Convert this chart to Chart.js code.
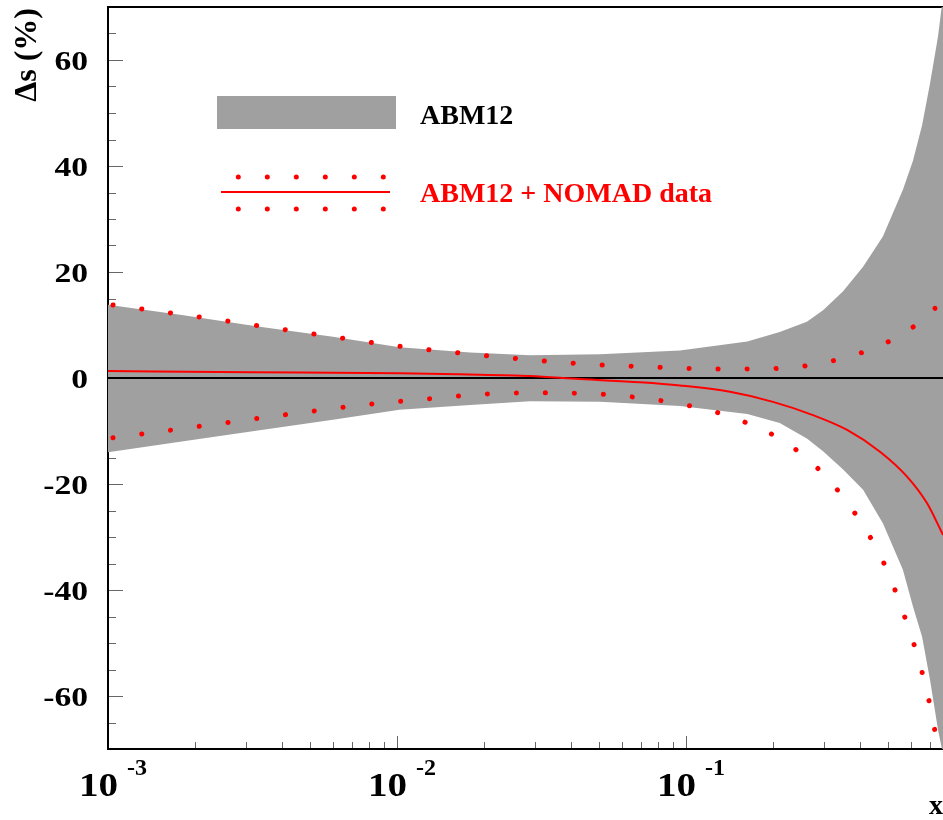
<!DOCTYPE html>
<html><head><meta charset="utf-8">
<script src="https://cdn.jsdelivr.net/npm/chart.js@4/dist/chart.umd.min.js"></script>
<style>html,body{margin:0;padding:0;background:#fff;overflow:hidden}#c{display:block}</style>
</head><body>
<canvas id="c" width="943" height="820"></canvas>
<script>
// ---------- values ----------
// ABM12 uncertainty band (Δs in %)
const bandX     = [0.00097, 0.001, 0.0018, 0.0033, 0.006, 0.0102, 0.0179, 0.0289, 0.0504, 0.0953, 0.163, 0.211, 0.262, 0.298, 0.349, 0.41, 0.48, 0.563, 0.61, 0.656, 0.699, 0.745, 0.775];
const bandUpper = [22.6, 13.8, 11.9, 9.7, 7.8, 5.8, 4.8, 4.3, 4.5, 5.2, 6.9, 8.7, 10.6, 12.8, 16.3, 21.0, 26.7, 35.5, 41.0, 47.7, 55.6, 64.5, 72.0];
const bandLower = [-23.0, -14.0, -12.0, -9.9, -7.9, -6.0, -5.1, -4.4, -4.5, -5.3, -6.8, -8.5, -11.4, -13.8, -17.2, -21.1, -27.4, -36.2, -43.1, -48.8, -57.0, -66.4, -71.0];
// ABM12 + NOMAD data : central curve
const centralX = [0.001, 0.0031, 0.0102, 0.0165, 0.0289, 0.043, 0.0693, 0.0953, 0.142, 0.2, 0.275, 0.361, 0.469, 0.582, 0.682, 0.775];
const centralY = [1.3, 1.1, 0.9, 0.7, 0.4, -0.2, -0.8, -1.4, -2.6, -4.5, -7.0, -9.8, -13.9, -18.6, -23.6, -29.6];
// ABM12 + NOMAD data : upper dotted curve
const upperX = [0.001, 0.00208, 0.00462, 0.0102, 0.0205, 0.0406, 0.0819, 0.130, 0.206, 0.260, 0.325, 0.406, 0.504, 0.610, 0.721, 0.775];
const upperY = [13.9, 11.5, 8.7, 6.0, 4.2, 2.8, 2.0, 1.7, 1.8, 2.3, 3.3, 4.8, 6.9, 9.6, 12.9, 15.5];
// ABM12 + NOMAD data : lower dotted curve
const lowerX = [0.001, 0.00208, 0.00413, 0.00819, 0.0130, 0.0207, 0.0328, 0.0524, 0.0661, 0.0826, 0.104, 0.130, 0.161, 0.198, 0.240, 0.284, 0.328, 0.375, 0.423, 0.469, 0.512, 0.550, 0.591, 0.630, 0.666, 0.699, 0.727, 0.750, 0.775];
const lowerY = [-11.4, -9.1, -6.9, -4.9, -3.9, -3.0, -2.8, -3.1, -3.6, -4.3, -5.3, -6.6, -8.4, -10.6, -13.5, -16.9, -20.6, -24.7, -29.0, -33.4, -38.0, -42.6, -47.4, -52.1, -56.9, -61.8, -66.6, -69.3, -73.0];
// axes
const xRange = [0.001, 0.775];
const yRange = [-70, 70];
const yTickLabels = [-60, -40, -20, 0, 20, 40, 60];
const xTickDecades = [-3, -2, -1];
const legendLabels = ['ABM12', 'ABM12 + NOMAD data'];
const yTitle = 'Δs (%)';
const xTitle = 'x';
// -------------------------------------------------------------

const pts = (xs, ys) => xs.map((x, i) => ({x, y: ys[i]}));
const SERIF = '"Liberation Serif", "Times New Roman", serif';
const GRAY = '#a0a0a0', RED = '#ff0000';

const rootStyle = {
  id: 'rootStyle',
  beforeDatasetsDraw(chart) {
    const {ctx, chartArea: a, scales: {x, y}} = chart;
    ctx.save();
    ctx.strokeStyle = '#666'; ctx.lineWidth = 1;
    ctx.beginPath();
    for (let v = yRange[0] + 5; v < yRange[1]; v += 5) {
      const py = Math.round(y.getPixelForValue(v)) + 0.5;
      const len = (v % 20 === 0) ? 15 : 8;
      ctx.moveTo(a.left, py); ctx.lineTo(a.left + len, py);
    }
    for (let e = -3; e <= 0; e++) for (let m = 1; m <= 9; m++) {
      const v = m * Math.pow(10, e);
      if (v < xRange[0] * 0.999 || v > xRange[1]) continue;
      const px = Math.round(x.getPixelForValue(v)) + 0.5;
      const len = m === 1 ? 13 : 7;
      ctx.moveTo(px, a.bottom); ctx.lineTo(px, a.bottom - len);
    }
    ctx.stroke();
    ctx.strokeStyle = '#000'; ctx.lineWidth = 2;
    ctx.beginPath();
    ctx.moveTo(a.left - 1, a.top); ctx.lineTo(a.right + 2, a.top);
    ctx.moveTo(a.left, a.top - 1); ctx.lineTo(a.left, a.bottom + 1);
    ctx.moveTo(a.left - 1, a.bottom); ctx.lineTo(a.right + 2, a.bottom);
    ctx.stroke();
    ctx.restore();
  },
  afterDraw(chart) {
    const {ctx, chartArea: a, scales: {x, y}} = chart;
    ctx.save();
    ctx.fillStyle = '#000';
    // y tick labels
    ctx.font = 'bold 28px ' + SERIF;
    ctx.textAlign = 'right'; ctx.textBaseline = 'alphabetic';
    for (const v of yTickLabels) {
      const py = y.getPixelForValue(v);
      ctx.save();
      ctx.translate(a.left - 20, py + 10);
      ctx.scale(1.2, 1);
      ctx.fillText(String(v), 0, 0);
      ctx.restore();
    }
    // x tick labels 10^n
    ctx.textAlign = 'left';
    for (const e of xTickDecades) {
      const px = x.getPixelForValue(Math.pow(10, e));
      ctx.font = 'bold 34px ' + SERIF;
      const w1 = ctx.measureText('10').width * 1.15;
      ctx.font = 'bold 24px ' + SERIF;
      const exp = String(e);
      const w2 = ctx.measureText(exp).width;
      const gap = 9;
      const start = px + 5 - (w1 + gap + w2) / 2;
      ctx.save();
      ctx.translate(start, a.bottom + 47);
      ctx.scale(1.15, 1);
      ctx.font = 'bold 34px ' + SERIF;
      ctx.fillText('10', 0, 0);
      ctx.restore();
      ctx.font = 'bold 24px ' + SERIF;
      ctx.fillText(exp, start + w1 + gap, a.bottom + 26);
    }
    // axis titles
    ctx.font = 'bold 28px ' + SERIF;
    ctx.fillText(xTitle, a.right - 14, a.bottom + 65);
    ctx.save();
    ctx.translate(36, a.top + 1);
    ctx.rotate(-Math.PI / 2);
    ctx.textAlign = 'right';
    ctx.font = 'bold 32px ' + SERIF;
    ctx.fillText(yTitle, 0, 0);
    ctx.restore();
    // legend
    ctx.fillStyle = GRAY;
    ctx.fillRect(217, 96, 179, 33);
    ctx.strokeStyle = RED; ctx.lineWidth = 2;
    ctx.beginPath(); ctx.moveTo(221, 192); ctx.lineTo(390, 192); ctx.stroke();
    ctx.fillStyle = RED;
    for (let k = 0; k < 6; k++) {
      for (const dy of [177, 209]) {
        ctx.beginPath(); ctx.arc(238.3 + k * 29, dy, 2.5, 0, Math.PI * 2); ctx.fill();
      }
    }
    ctx.font = 'bold 28px ' + SERIF;
    ctx.textAlign = 'left';
    ctx.fillStyle = '#000';
    ctx.fillText(legendLabels[0], 420, 124);
    ctx.fillStyle = RED;
    ctx.fillText(legendLabels[1], 420, 202);
    ctx.restore();
  }
};

const dotted = {borderColor: RED, borderWidth: 5, borderDash: [0.1, 28.9], borderDashOffset: 24,
  borderCapStyle: 'round', pointRadius: 0, fill: false, cubicInterpolationMode: 'monotone', order: 1};

new Chart(document.getElementById('c'), {
  type: 'line',
  data: {
    datasets: [
      {label: 'ABM12 upper', data: pts(bandX, bandUpper), borderWidth: 0, borderColor: GRAY,
       backgroundColor: GRAY, fill: '+1', pointRadius: 0, tension: 0, order: 10,
       clip: {left: 5, top: 0, right: 0, bottom: 0}},
      {label: 'ABM12 lower', data: pts(bandX, bandLower), borderWidth: 0, borderColor: GRAY,
       backgroundColor: GRAY, fill: false, pointRadius: 0, tension: 0, order: 11,
       clip: {left: 5, top: 0, right: 0, bottom: 0}},
      {label: 'zero', data: pts(xRange, [0, 0]), borderColor: '#000', borderWidth: 2, pointRadius: 0, fill: false, order: 5},
      {label: 'ABM12 + NOMAD data', data: pts(centralX, centralY), borderColor: RED, borderWidth: 2,
       pointRadius: 0, fill: false, cubicInterpolationMode: 'monotone', order: 0},
      Object.assign({label: 'upper', data: pts(upperX, upperY)}, dotted),
      Object.assign({label: 'lower', data: pts(lowerX, lowerY)}, dotted)
    ]
  },
  options: {
    responsive: false, animation: false, events: [],
    layout: {padding: {top: 7, right: 0, left: 0, bottom: 0}},
    plugins: {legend: {display: false}, tooltip: {enabled: false}, title: {display: false}},
    scales: {
      x: {type: 'logarithmic', min: xRange[0], max: xRange[1],
          grid: {display: false}, border: {display: false}, ticks: {display: false},
          afterFit(s) { s.height = 71; }},
      y: {type: 'linear', min: yRange[0], max: yRange[1],
          grid: {display: false}, border: {display: false}, ticks: {display: false},
          afterFit(s) { s.width = 108; }}
    }
  },
  plugins: [rootStyle]
});
</script>
</body></html>
